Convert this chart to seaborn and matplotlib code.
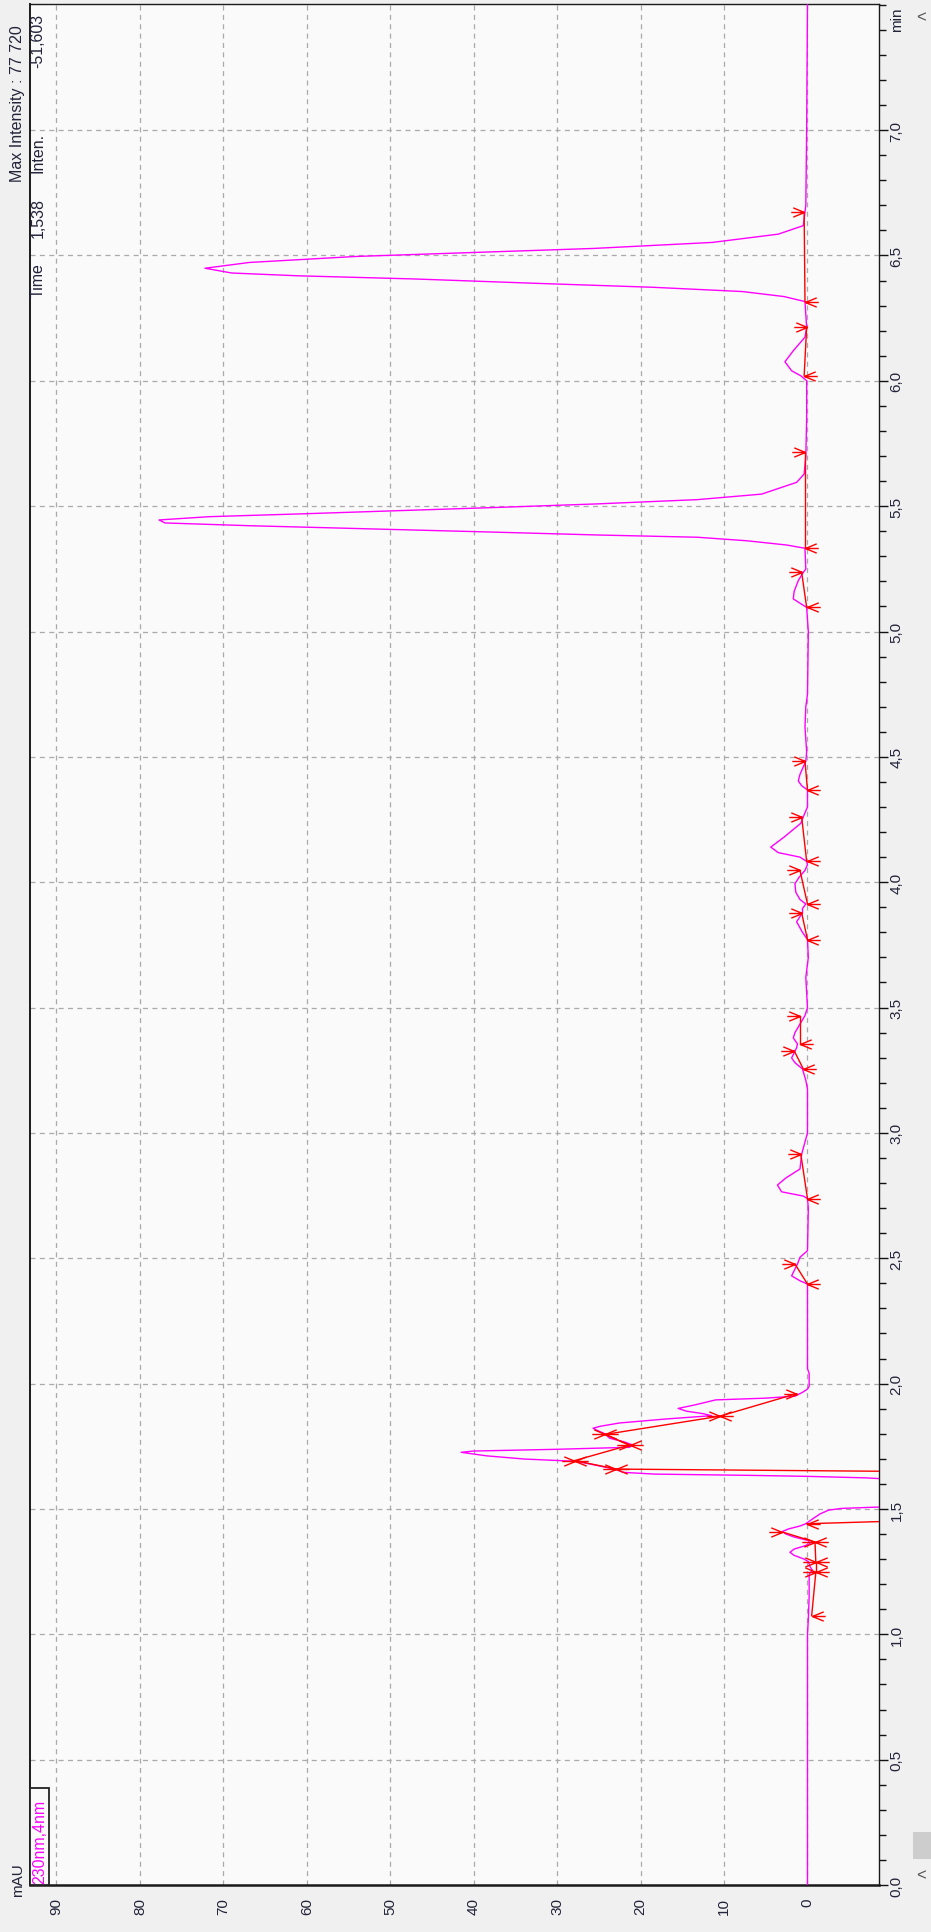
import seaborn as sns
import matplotlib.pyplot as plt
import pandas as pd
from matplotlib.path import Path
from matplotlib.patches import Rectangle
from matplotlib.ticker import MultipleLocator, FuncFormatter

# chromatogram trace, 230nm,4nm (time in min, signal in mAU)
time_min = [
    0.00, 1.00, 1.06, 1.15, 1.24, 1.255, 1.27, 1.29, 1.30, 1.315, 1.327, 1.34,
    1.352, 1.362, 1.374, 1.388, 1.40, 1.41, 1.42, 1.432, 1.441, 1.46, 1.48,
    1.495, 1.502, 1.507, 1.512, 1.525, 1.538, 1.555, 1.58, 1.60, 1.615, 1.624,
    1.630, 1.634, 1.639, 1.646, 1.657, 1.672, 1.690, 1.699, 1.712, 1.726,
    1.731, 1.738, 1.746, 1.756, 1.768, 1.782, 1.800, 1.815, 1.822, 1.830,
    1.843, 1.859, 1.872, 1.880, 1.890, 1.901, 1.915, 1.935, 1.942, 1.950,
    1.965, 1.978, 1.99, 2.04, 2.06, 2.35, 2.397, 2.41, 2.43, 2.45, 2.477,
    2.504, 2.53, 2.70, 2.738, 2.748, 2.765, 2.792, 2.82, 2.856, 2.915, 3.00,
    3.175, 3.21, 3.255, 3.28, 3.299, 3.326, 3.34, 3.355, 3.379, 3.40, 3.44,
    3.468, 3.50, 3.62, 3.70, 3.771, 3.80, 3.842, 3.878, 3.895, 3.913, 3.931,
    3.960, 3.994, 4.02, 4.047, 4.070, 4.083, 4.10, 4.118, 4.140, 4.18, 4.235,
    4.261, 4.30, 4.368, 4.385, 4.404, 4.43, 4.483, 4.52, 4.62, 4.70, 4.75,
    5.00, 5.05, 5.096, 5.13, 5.16, 5.203, 5.236, 5.249, 5.332, 5.345, 5.362,
    5.376, 5.385, 5.396, 5.409, 5.422, 5.433, 5.445, 5.458, 5.469, 5.482,
    5.495, 5.509, 5.526, 5.548, 5.595, 5.628, 5.70, 5.85, 6.00, 6.02, 6.04,
    6.076, 6.12, 6.174, 6.213, 6.316, 6.336, 6.356, 6.373, 6.389, 6.406,
    6.419, 6.430, 6.449, 6.472, 6.496, 6.512, 6.528, 6.552, 6.585, 6.619,
    6.70, 7.00, 7.50,
]
signal_mau = [
    0.0, 0.0, -0.1, -0.2, -0.2, -0.6, -0.3, -0.1, 0.4, 1.6, 2.1, 1.6,
    0.4, -0.3, -0.1, 1.6, 2.6, 3.0, 2.3, 0.9, 0.2, -0.6, -1.5,
    -2.5, -4.0, -8.0, -20.0, -40.0, -51.6, -45.0, -30.0, -18.0, -12.0, -7.0,
    0.0, 7.0, 18.3, 22.1, 22.9, 25.0, 27.7, 33.9, 38.5, 41.5,
    40.0, 30.0, 21.3, 21.0, 22.0, 23.7, 24.3, 25.3, 25.7, 24.8,
    22.5, 16.9, 11.5, 12.5, 14.5, 15.5, 13.5, 11.0, 5.0, 1.5,
    0.6, 0.0, -0.2, -0.2, 0.0, 0.0, 0.0, 0.9, 1.9, 1.6, 1.2,
    0.9, 0.0, -0.1, 0.0, 0.5, 3.1, 3.6, 2.6, 0.9, 0.7, 0.0,
    0.0, 0.2, 0.6, 1.5, 1.9, 1.5, 1.3, 1.2, 1.7, 1.5, 0.8,
    0.3, 0.0, 0.2, -0.1, 0.0, 0.6, 1.3, 0.6, 0.6, 0.2, 0.9,
    1.4, 1.5, 1.0, 0.3, 0.0, 0.1, 0.9, 3.5, 4.4, 2.8, 0.8,
    0.5, 0.0, 0.0, 0.7, 1.1, 0.9, 0.2, 0.1, 0.3, 0.2, 0.0,
    -0.1, 0.0, 0.1, 1.7, 1.6, 1.1, 0.5, 0.2, 0.3, 2.5, 7.3,
    13.2, 25.2, 37.1, 52.0, 66.9, 77.0, 77.7, 71.7, 60.9, 49.0,
    37.1, 25.2, 13.2, 5.5, 1.3, 0.4, 0.2, 0.1, 0.1, 0.8, 1.9,
    2.7, 1.7, 0.3, 0.1, 0.3, 2.8, 7.8, 18.5, 32.7, 46.9,
    61.2, 69.0, 72.2, 66.9, 54.1, 39.8, 25.6, 11.4, 3.5, 0.5,
    0.2, 0.1, 0.0,
]

# integration baselines: start (t0, v0) -> end (t1, v1)
base_t0 = [1.074, 1.247, 1.287, 1.368, 1.441, 1.650, 1.659, 1.693, 1.755, 1.797,
           1.870, 2.397, 2.738, 3.255, 3.355, 3.771, 3.913, 4.083, 4.368, 5.096,
           5.332, 6.020, 6.316]
base_v0 = [-0.5, -1.0, -1.0, -0.9, 0.1, -10.0, 22.9, 27.9, 21.3, 24.3,
           10.5, 0.0, 0.0, 0.5, 0.9, 0.0, 0.0, 0.1, 0.0, 0.1,
           0.3, 0.4, 0.3]
base_t1 = [1.247, 1.287, 1.368, 1.408, 1.451, 1.659, 1.693, 1.755, 1.797, 1.870,
           1.960, 2.477, 2.915, 3.328, 3.468, 3.878, 4.047, 4.261, 4.483, 5.236,
           5.715, 6.213, 6.672]
base_v1 = [-1.0, -1.0, -0.9, 3.0, -10.0, 22.9, 27.9, 21.3, 24.3, 10.5,
           1.3, 1.5, 0.8, 1.6, 0.9, 0.7, 0.9, 0.7, 0.3, 0.7,
           0.3, 0.1, 0.4]

mau_ticks = [0, 10, 20, 30, 40, 50, 60, 70, 80, 90]
time_ticks = [0.0, 0.5, 1.0, 1.5, 2.0, 2.5, 3.0, 3.5, 4.0, 4.5, 5.0, 5.5, 6.0, 6.5, 7.0]

W, H = 931, 1933
TXT = '#23233a'


def fx(px):
    return px / W


def fy(py):
    return 1 - py / H


sns.set_style('white')
plt.rcParams['font.family'] = ['Liberation Sans', 'DejaVu Sans']

fig = plt.figure(figsize=(W / 100, H / 100), dpi=100, facecolor='#f0f0f0')
ax = fig.add_axes([fx(30), fy(1886), (879 - 30) / W, (1886 - 5) / H])
ax.set_facecolor('#fafafa')

df = pd.DataFrame({'time': time_min, 'mau': signal_mau})
sns.lineplot(data=df, x='mau', y='time', orient='y', sort=False, estimator=None,
             color='#ff00ff', linewidth=1.0, ax=ax, legend=False, zorder=3)

# baselines and peak start/end marks
end_mark = Path([(-1, 0), (0, 0), (-0.85, 0.35), (0, 0), (-0.85, -0.35)],
                [Path.MOVETO, Path.LINETO, Path.MOVETO, Path.LINETO, Path.LINETO])
start_mark = Path([(1, 0), (0, 0), (0.85, 0.35), (0, 0), (0.85, -0.35)],
                  [Path.MOVETO, Path.LINETO, Path.MOVETO, Path.LINETO, Path.LINETO])
for t0, v0, t1, v1 in zip(base_t0, base_v0, base_t1, base_v1):
    ax.plot([v0, v1], [t0, t1], color='#ff0000', linewidth=1.0, zorder=4)
    if v0 > -8:
        ax.plot([v0], [t0], marker=start_mark, markersize=19, mfc='none',
                mec='#ff0000', mew=1.0, zorder=5)
    if v1 > -8:
        ax.plot([v1], [t1], marker=end_mark, markersize=19, mfc='none',
                mec='#ff0000', mew=1.0, zorder=5)

ax.set_xlim(93.17, -8.57)
ax.set_ylim(0, 7.503)
ax.set_xlabel('')
ax.set_ylabel('')

ax.set_xticks(mau_ticks)
ax.xaxis.set_minor_locator(MultipleLocator(2))
ax.yaxis.tick_right()
ax.set_yticks(time_ticks)
ax.yaxis.set_minor_locator(MultipleLocator(0.1))
ax.yaxis.set_major_formatter(FuncFormatter(lambda v, p: f'{v:.1f}'.replace('.', ',')))

ax.tick_params(axis='x', which='major', direction='out', length=6, width=1,
               color='#111111', labelsize=11, labelcolor=TXT, labelrotation=90, pad=3)
ax.tick_params(axis='x', which='minor', direction='out', length=4.5, width=1, color='#111111')
ax.tick_params(axis='y', which='major', direction='out', length=6.5, width=1,
               color='#111111', labelsize=11, labelcolor=TXT, labelrotation=90, pad=1,
               left=False, right=True)
ax.tick_params(axis='y', which='minor', direction='out', length=5, width=1,
               color='#111111', left=False, right=True)
plt.setp(ax.get_yticklabels(), va='center')

ax.grid(True, which='major', color='#aaaaaa', linestyle=(0, (4, 3.5)), linewidth=0.9)
ax.set_axisbelow(True)
for side, lw in [('left', 1.4), ('bottom', 1.8), ('right', 1.0), ('top', 1.0)]:
    ax.spines[side].set_visible(True)
    ax.spines[side].set_color('#1a1a1a')
    ax.spines[side].set_linewidth(lw)

# header texts
fig.text(fx(18), fy(182), 'Max Intensity : 77 720', rotation=90, ha='center',
         va='bottom', fontsize=11.5, color=TXT)
fig.text(fx(38), fy(298), 'Time', rotation=90, ha='center', va='bottom',
         fontsize=11.5, color=TXT)
fig.text(fx(38), fy(238), '1,538', rotation=90, ha='center', va='bottom',
         fontsize=11.5, color=TXT)
fig.text(fx(38), fy(173), 'Inten.', rotation=90, ha='center', va='bottom',
         fontsize=11.5, color=TXT)
fig.text(fx(38), fy(68), '-51,603', rotation=90, ha='center', va='bottom',
         fontsize=11.5, color=TXT)

fig.text(fx(18), fy(1897), 'mAU', rotation=90, ha='center', va='bottom',
         fontsize=11, color=TXT)
fig.text(fx(897), fy(32), 'min', rotation=90, ha='center', va='bottom',
         fontsize=11, color=TXT)

# channel label box
fig.add_artist(Rectangle((fx(30), fy(1886)), (49 - 30) / W, (1886 - 1789) / H,
                         transform=fig.transFigure, facecolor='#fafafa',
                         edgecolor='#222222', linewidth=1.3, zorder=6))
fig.text(fx(40), fy(1884), '230nm,4nm', rotation=90, ha='center', va='bottom',
         fontsize=11.5, color='#ff00ff', zorder=7)

# scrollbar strip
fig.add_artist(Rectangle((fx(912), 0), (W - 912) / W, 1, transform=fig.transFigure,
                         facecolor='#f0f0f0', edgecolor='none', zorder=1))
fig.add_artist(Rectangle((fx(913), fy(1860)), (W - 913) / W, 27 / H,
                         transform=fig.transFigure, facecolor='#cdcdcd',
                         edgecolor='none', zorder=2))
fig.text(fx(921), fy(18), '<', ha='center', va='center', fontsize=12, color='#555555')
fig.text(fx(921), fy(1876), '<', ha='center', va='center', fontsize=12, color='#555555')

fig.savefig('out.png', dpi=100, facecolor=fig.get_facecolor())
